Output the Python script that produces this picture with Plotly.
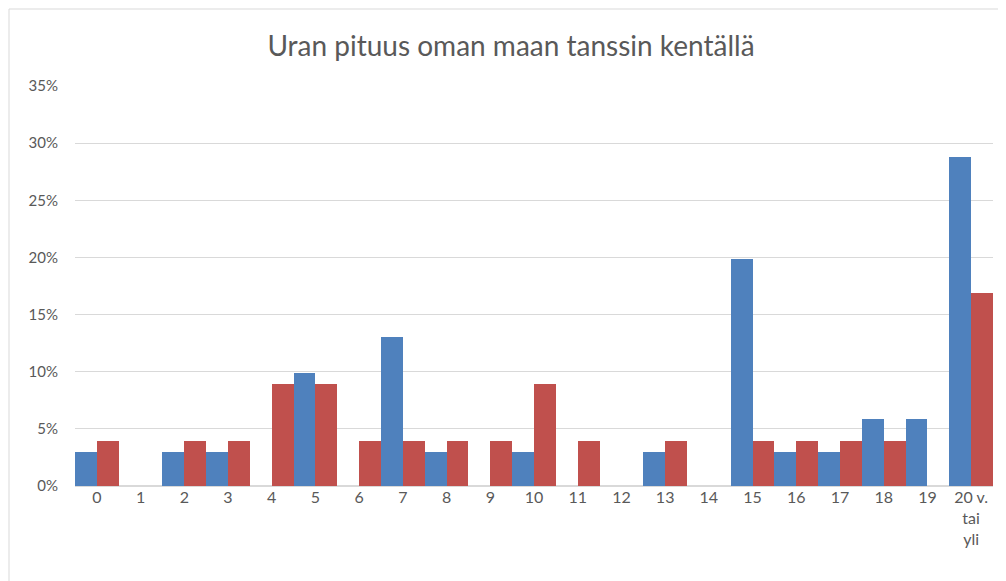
import plotly.graph_objects as go

categories = [str(i) for i in range(20)] + ["20 v.<br>tai<br>yli"]
blue_values = [3.0, 0, 3.0, 3.0, 0, 9.9, 0, 13.0, 3.0, 0, 3.0, 0, 0, 3.0, 0, 19.9, 3.0, 3.0, 5.9, 5.9, 28.8]
red_values = [3.9, 0, 3.9, 3.9, 8.9, 8.9, 3.9, 3.9, 3.9, 3.9, 8.9, 3.9, 0, 3.9, 0, 3.9, 3.9, 3.9, 3.9, 0, 16.9]
y_ticks = [0, 5, 10, 15, 20, 25, 30, 35]
y_tick_labels = [f"{v}%" for v in y_ticks]

fig = go.Figure()
fig.add_trace(go.Bar(x=categories, y=blue_values, marker=dict(color="#4F81BD", line=dict(width=0)), name="A"))
fig.add_trace(go.Bar(x=categories, y=red_values, marker=dict(color="#C0504D", line=dict(width=0)), name="B"))

L, T = 67, 78
fig.update_layout(
    width=1006, height=581,
    margin=dict(l=L, r=21, t=T, b=103),
    paper_bgcolor="white", plot_bgcolor="white",
    barmode="group", bargap=0, bargroupgap=0,
    showlegend=False,
    font=dict(family="Lato, 'Open Sans', sans-serif", color="#595959", size=15),
    title=dict(text="Uran pituus oman maan tanssin kentällä", x=0.5, xanchor="center",
               y=1 - 38 / 581, yanchor="middle", font=dict(size=28, color="#595959")),
    xaxis=dict(type="category", showgrid=False, showline=False, ticks="", zeroline=False,
               tickfont=dict(size=16, color="#595959")),
    yaxis=dict(range=[0, 35], tickvals=y_ticks, ticktext=y_tick_labels, showgrid=True,
               gridcolor="#D9D9D9", gridwidth=1, zeroline=True, zerolinecolor="#D9D9D9",
               showline=False, ticks="", ticklabelstandoff=16,
               tickfont=dict(size=15, color="#595959")),
    shapes=[dict(type="rect", xref="paper", yref="paper",
                 x0=-(L - 1) / 918, x1=1.1, y0=-0.4, y1=1 + (T - 1) / 400,
                 line=dict(color="#D9D9D9", width=1), fillcolor="rgba(0,0,0,0)", layer="below")],
)

fig.write_html("out.html")
